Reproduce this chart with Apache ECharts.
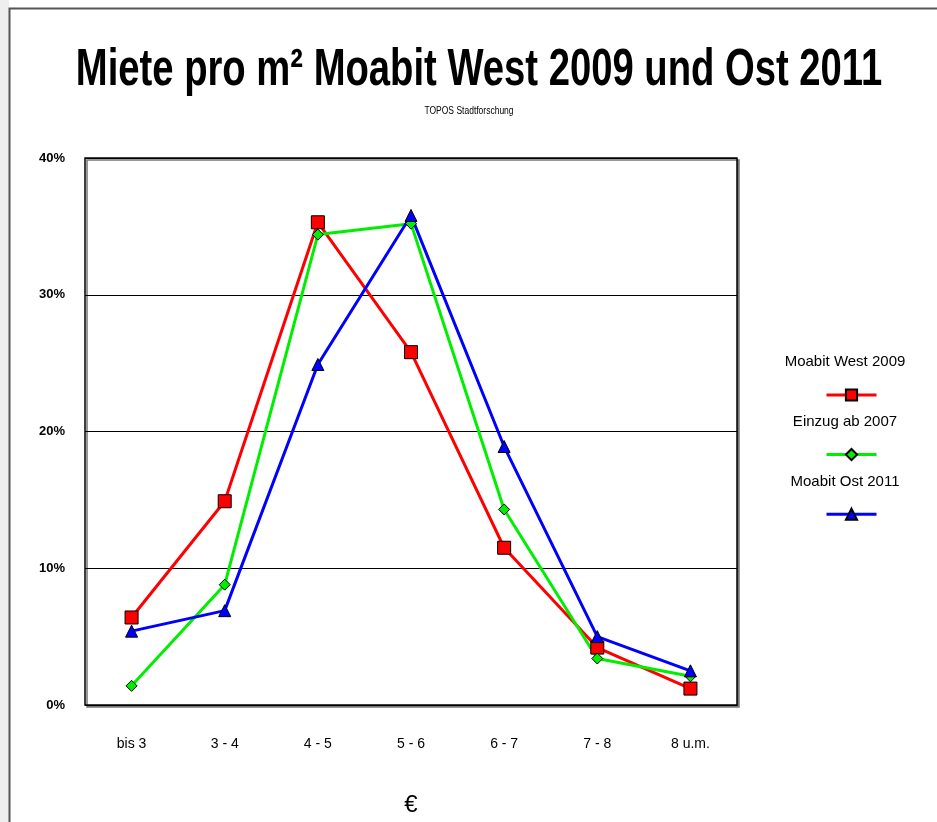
<!DOCTYPE html>
<html lang="de">
<head>
<meta charset="utf-8">
<title>Miete pro m² Moabit</title>
<script src="https://cdn.jsdelivr.net/npm/echarts@6/dist/echarts.min.js"></script>
<style>
html, body { margin: 0; padding: 0; background: #fff; }
#main { width: 937px; height: 822px; }
</style>
</head>
<body>
<div id="main"></div>
<script>
// Mietklassen in Euro pro m2
var categories = ['bis 3', '3 - 4', '4 - 5', '5 - 6', '6 - 7', '7 - 8', '8 u.m.'];
// Anteile in Prozent
var west2009 = [6.4, 14.9, 35.3, 25.8, 11.5, 4.2, 1.2];
var einzug2007 = [1.4, 8.8, 34.4, 35.2, 14.3, 3.4, 2.1];
var ost2011 = [5.4, 6.9, 24.9, 35.8, 18.9, 5.0, 2.5];
var seriesNames = ['Moabit West 2009', 'Einzug ab 2007', 'Moabit Ost 2011'];

var sans = "Liberation Sans";

var myChart = echarts.init(document.getElementById('main'));

function mkSeries(name, data, color, symbol, size) {
	return {
		name: name,
		type: 'line',
		data: data,
		symbol: symbol,
		symbolSize: size,
		lineStyle: { color: color, width: 3 },
		itemStyle: { color: color, borderColor: '#000', borderWidth: 1 },
		emphasis: { disabled: true },
		z: 3
	};
}

var option = {
	backgroundColor: '#fff',
	animation: false,
	graphic: [
		// linker Streifen und Rahmen
		{ type: 'rect', shape: { x: 0, y: 0, width: 9, height: 822 }, style: { fill: '#eeeeee' }, z: -10 },
		{ type: 'rect', shape: { x: 9.5, y: 8.5, width: 940, height: 830 }, style: { fill: '#fff', stroke: '#555', lineWidth: 2 }, z: -9 },
		{
			type: 'text', x: 479, y: 71, scaleX: 0.735,
			style: {
				text: 'Miete pro m² Moabit West 2009 und Ost 2011',
				font: "bold 52px 'Liberation Sans', Arial, sans-serif",
				fill: '#000', align: 'center', verticalAlign: 'middle'
			}
		},
		{
			type: 'text', x: 469, y: 111, scaleX: 0.85,
			style: {
				text: 'TOPOS Stadtforschung',
				font: "10px '" + sans + "'",
				fill: '#000', align: 'center', verticalAlign: 'middle'
			}
		},
		{ type: 'text', x: 845, y: 362, style: { text: seriesNames[0], font: "15px '" + sans + "'", fill: '#000', align: 'center', verticalAlign: 'middle' } },
		{ type: 'text', x: 845, y: 422, style: { text: seriesNames[1], font: "15px '" + sans + "'", fill: '#000', align: 'center', verticalAlign: 'middle' } },
		{ type: 'text', x: 845, y: 482, style: { text: seriesNames[2], font: "15px '" + sans + "'", fill: '#000', align: 'center', verticalAlign: 'middle' } }
	],
	legend: {
		orient: 'vertical',
		left: 820,
		top: 383,
		itemWidth: 50,
		itemHeight: 14,
		itemGap: 46,
		selectedMode: false,
		lineStyle: { width: 3 },
		formatter: function () { return ''; },
		data: seriesNames
	},
	grid: {
		left: 85, right: 200, top: 158, bottom: 115,
		show: true,
		backgroundColor: '#fff',
		borderColor: '#000',
		borderWidth: 1.5,
		shadowColor: '#777',
		shadowOffsetX: 2,
		shadowOffsetY: 2,
		shadowBlur: 0
	},
	xAxis: {
		type: 'category',
		data: categories,
		boundaryGap: true,
		name: '€',
		nameLocation: 'middle',
		nameGap: 88,
		nameTextStyle: { fontSize: 24, color: '#000', fontFamily: sans },
		axisLine: { show: false },
		axisTick: { show: false },
		axisLabel: { margin: 32, fontSize: 14, color: '#000', fontFamily: sans }
	},
	yAxis: {
		type: 'value',
		min: 0,
		max: 40,
		interval: 10,
		axisLine: { show: false },
		axisTick: { show: false },
		splitLine: { lineStyle: { color: '#000', width: 1 } },
		axisLabel: {
			formatter: '{value}%', margin: 20, fontSize: 13, fontWeight: 'bold',
			color: '#000', fontFamily: sans
		}
	},
	series: [
		mkSeries(seriesNames[0], west2009, '#ff0000', 'rect', 13),
		mkSeries(seriesNames[1], einzug2007, '#00ee00', 'diamond', 11),
		mkSeries(seriesNames[2], ost2011, '#0000ff', 'triangle', 12)
	]
};

myChart.setOption(option);
</script>
</body>
</html>
